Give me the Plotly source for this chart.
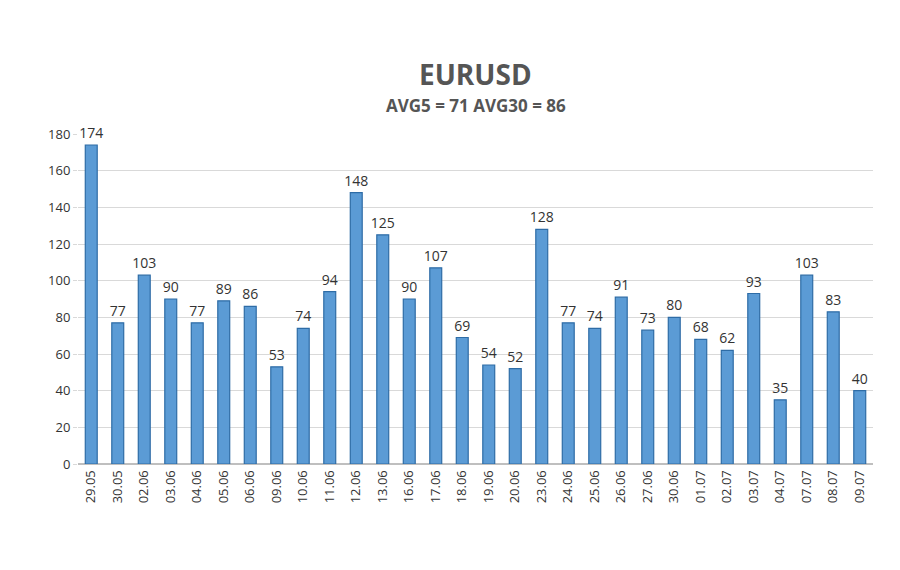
import plotly.graph_objects as go

dates = ["29.05", "30.05", "02.06", "03.06", "04.06", "05.06", "06.06", "09.06", "10.06", "11.06",
         "12.06", "13.06", "16.06", "17.06", "18.06", "19.06", "20.06", "23.06", "24.06", "25.06",
         "26.06", "27.06", "30.06", "01.07", "02.07", "03.07", "04.07", "07.07", "08.07", "09.07"]
values = [174, 77, 103, 90, 77, 89, 86, 53, 74, 94,
          148, 125, 90, 107, 69, 54, 52, 128, 77, 74,
          91, 73, 80, 68, 62, 93, 35, 103, 83, 40]
y_ticks = list(range(0, 181, 20))

fig = go.Figure(go.Bar(
    x=dates,
    y=values,
    text=values,
    textposition="outside",
    textfont=dict(size=14, color="#333333"),
    cliponaxis=False,
    marker=dict(color="#5b9bd5", line=dict(color="#2e6ca6", width=1.2)),
    width=0.45,
))

W, H = 900, 570
ml, mr, mt, mb = 70, 35, 126, 114
ph = H - mt - mb

fig.update_layout(
    width=W, height=H,
    margin=dict(l=ml, r=mr, t=mt, b=mb),
    paper_bgcolor="white", plot_bgcolor="white",
    font=dict(family="Open Sans, DejaVu Sans", color="#444444"),
    showlegend=False,
    uniformtext=dict(minsize=14, mode="show"),
    annotations=[
        dict(text="<b>EURUSD</b>", xref="paper", yref="paper", x=0.5, y=1 + 81 / ph,
             showarrow=False, font=dict(size=28, color="#555555")),
        dict(text="<b>AVG5 = 71 AVG30 = 86</b>", xref="paper", yref="paper", x=0.5, y=1 + 42 / ph,
             showarrow=False, font=dict(size=17, color="#555555")),
    ],
)
fig.update_yaxes(range=[0, 180], tickvals=y_ticks, showgrid=True, gridcolor="#d9d9d9",
                 zeroline=True, zerolinecolor="#bfbfbf", tickfont=dict(size=13, color="#333333"),
                 ticks="outside", ticklen=4, tickcolor="#d9d9d9")
fig.update_xaxes(tickangle=-90, tickfont=dict(size=13, color="#333333"),
                 showline=True, linecolor="#bfbfbf")

fig.write_html("out.html")
